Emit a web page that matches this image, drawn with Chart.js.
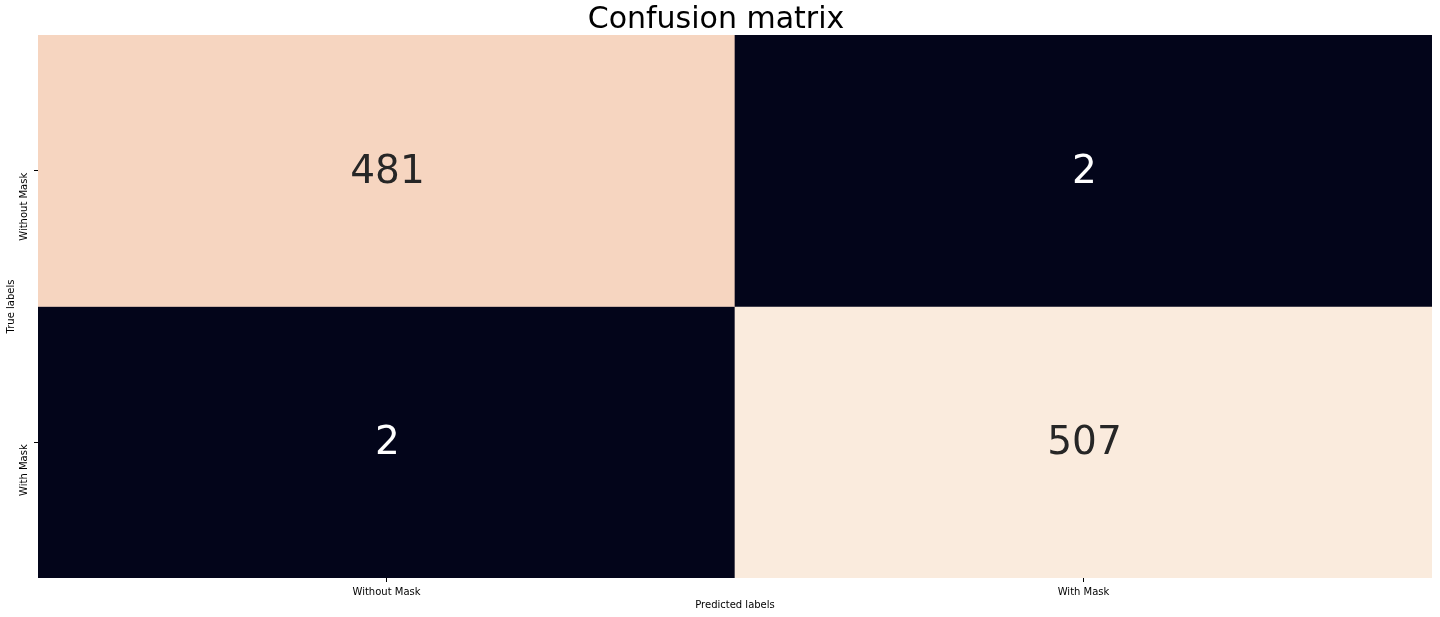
<!DOCTYPE html>
<html>
<head>
<meta charset="utf-8">
<script src="https://cdn.jsdelivr.net/npm/chart.js@4"></script>
<style>
html,body{margin:0;padding:0;background:#fff;}
#wrap{width:1440px;height:617px;position:relative;}
</style>
</head>
<body>
<div id="wrap"><canvas id="c" width="1440" height="617"></canvas></div>
<script>
// ---- data ----
const titleText = 'Confusion matrix';
const xLabels = ['Without Mask', 'With Mask'];   // predicted
const yLabels = ['Without Mask', 'With Mask'];   // true
const rowWithoutMask = [481, 2];
const rowWithMask = [2, 507];
const xTitle = 'Predicted labels';
const yTitle = 'True labels';

const matrix = [rowWithoutMask, rowWithMask];
const allVals = matrix.flat();
const vmin = Math.min(...allVals), vmax = Math.max(...allVals);

// approximate "rocket" colormap stops
const rocket = [
  [0.00, [3, 5, 26]],
  [0.25, [95, 24, 82]],
  [0.50, [203, 27, 79]],
  [0.75, [243, 118, 81]],
  [0.90, [246, 188, 154]],
  [0.95, [246, 214, 193]],
  [1.00, [250, 235, 221]]
];
function cmap(v) {
  const t = (v - vmin) / (vmax - vmin);
  for (let i = 1; i < rocket.length; i++) {
    if (t <= rocket[i][0]) {
      const [t0, c0] = rocket[i - 1], [t1, c1] = rocket[i];
      const f = (t - t0) / (t1 - t0);
      const c = c0.map((a, k) => Math.round(a + (c1[k] - a) * f));
      return `rgb(${c[0]},${c[1]},${c[2]})`;
    }
  }
  const c = rocket[rocket.length - 1][1];
  return `rgb(${c[0]},${c[1]},${c[2]})`;
}
function isDark(v) { return (v - vmin) / (vmax - vmin) < 0.5; }

const FONT = "'DejaVu Sans', sans-serif";

const datasets = matrix.map((row, r) => ({
  label: yLabels[r],
  data: row.map(() => [r - 0.5, r + 0.5]),
  counts: row,
  backgroundColor: row.map(cmap),
  borderWidth: 0,
  grouped: false,
  barPercentage: 1.0,
  categoryPercentage: 1.0
}));

const annotPlugin = {
  id: 'annot',
  afterDatasetsDraw(chart) {
    const ctx = chart.ctx;
    ctx.save();
    ctx.font = `39px ${FONT}`;
    ctx.textAlign = 'center';
    ctx.textBaseline = 'middle';
    chart.data.datasets.forEach((ds, di) => {
      const meta = chart.getDatasetMeta(di);
      meta.data.forEach((el, i) => {
        const v = ds.counts[i];
        ctx.fillStyle = isDark(v) ? '#ffffff' : '#262626';
        ctx.fillText(String(v), el.x + 1, (el.y + el.base) / 2 + 2);
      });
    });
    ctx.restore();
  }
};

const yTickLabelPlugin = {
  id: 'yTickLabels',
  afterDraw(chart) {
    const ctx = chart.ctx;
    const ys = chart.scales.y;
    ctx.save();
    ctx.font = `10px ${FONT}`;
    ctx.fillStyle = '#000';
    ctx.textAlign = 'right';
    ctx.textBaseline = 'middle';
    yLabels.forEach((lab, i) => {
      const py = ys.getPixelForValue(i);
      ctx.save();
      ctx.translate(24, py + 2);
      ctx.rotate(-Math.PI / 2);
      ctx.fillText(lab, 0, 0);
      ctx.restore();
    });
    ctx.restore();
  }
};

new Chart(document.getElementById('c'), {
  type: 'bar',
  data: { labels: xLabels, datasets },
  options: {
    responsive: false,
    animation: false,
    events: [],
    layout: { padding: { left: 0, right: 8, top: 0, bottom: 0 } },
    plugins: {
      legend: { display: false },
      tooltip: { enabled: false },
      title: {
        display: true,
        text: titleText,
        color: '#000',
        font: { family: FONT, size: 30, weight: 'normal', lineHeight: 1.0 },
        padding: { top: 5, bottom: 0 }
      }
    },
    scales: {
      x: {
        type: 'category',
        offset: true,
        border: { display: false },
        grid: { display: true, drawOnChartArea: false, drawTicks: true, tickLength: 4, offset: false, color: '#000', lineWidth: 1 },
        ticks: { color: '#000', font: { family: FONT, size: 10 }, maxRotation: 0, minRotation: 0, padding: 4 },
        title: { display: true, text: xTitle, color: '#000', font: { family: FONT, size: 10, lineHeight: 1.2 }, padding: { top: 0, bottom: 6 } },
        afterFit(scale) { scale.height = 39; }
      },
      y: {
        type: 'linear',
        reverse: true,
        min: -0.5,
        max: yLabels.length - 0.5,
        border: { display: false },
        grid: { display: true, drawOnChartArea: false, drawTicks: true, tickLength: 4, color: '#000', lineWidth: 1 },
        afterBuildTicks(scale) { scale.ticks = yLabels.map((_, i) => ({ value: i })); },
        ticks: { callback: () => '', font: { family: FONT, size: 10 } },
        title: { display: true, text: yTitle, color: '#000', font: { family: FONT, size: 10, lineHeight: 1.2 }, padding: { top: 5, bottom: 0 } },
        afterFit(scale) { scale.width = 38; }
      }
    }
  },
  plugins: [annotPlugin, yTickLabelPlugin]
});
</script>
</body>
</html>
